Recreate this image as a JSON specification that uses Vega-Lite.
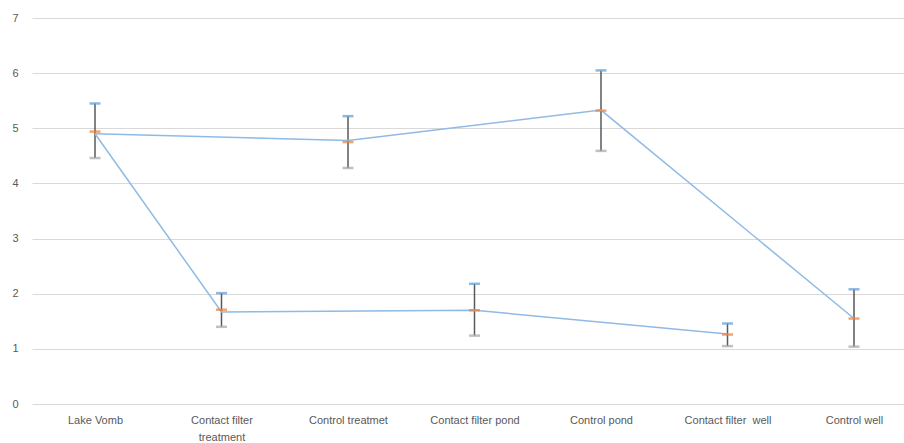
{
  "$schema": "https://vega.github.io/schema/vega-lite/v6.json",
  "autosize": "none",
  "width": 872,
  "height": 386,
  "padding": {"left": 32, "top": 18, "right": 0, "bottom": 39},
  "background": "white",
  "config": {
    "view": {"stroke": null},
    "font": "Liberation Sans",
    "axis": {"labelFont": "Liberation Sans", "labelFontSize": 11, "labelColor": "#595959", "ticks": false, "domain": false, "title": null}
  },
  "datasets": {
    "stats": [
      {"cat": "Lake Vomb", "low": 4.46, "mean": 4.94, "high": 5.45},
      {"cat": "Contact filter treatment", "low": 1.40, "mean": 1.71, "high": 2.01},
      {"cat": "Control treatmet", "low": 4.28, "mean": 4.75, "high": 5.22},
      {"cat": "Contact filter pond", "low": 1.24, "mean": 1.70, "high": 2.18},
      {"cat": "Control pond", "low": 4.59, "mean": 5.32, "high": 6.05},
      {"cat": "Contact filter  well", "low": 1.05, "mean": 1.26, "high": 1.46},
      {"cat": "Control well", "low": 1.04, "mean": 1.55, "high": 2.08}
    ],
    "lines": [
      {"cat": "Lake Vomb", "series": "Control", "value": 4.90},
      {"cat": "Control treatmet", "series": "Control", "value": 4.78},
      {"cat": "Control pond", "series": "Control", "value": 5.33},
      {"cat": "Control well", "series": "Control", "value": 1.55},
      {"cat": "Lake Vomb", "series": "Contact filter", "value": 4.90},
      {"cat": "Contact filter treatment", "series": "Contact filter", "value": 1.67},
      {"cat": "Contact filter pond", "series": "Contact filter", "value": 1.70},
      {"cat": "Contact filter  well", "series": "Contact filter", "value": 1.27}
    ]
  },
  "encoding": {
    "x": {
      "field": "cat",
      "type": "nominal",
      "sort": ["Lake Vomb", "Contact filter treatment", "Control treatmet", "Contact filter pond", "Control pond", "Contact filter  well", "Control well"],
      "scale": {"type": "point", "padding": 0.4466, "align": 0.5575},
      "axis": {"labelAngle": 0, "labelPadding": 10, "labelBaseline": "top", "grid": false, "labelLineHeight": 17,
        "labelExpr": "datum.value == 'Contact filter treatment' ? ['Contact filter', 'treatment'] : datum.value == 'Contact filter  well' ? 'Contact filter\u00a0 well' : datum.value"}
    }
  },
  "layer": [
    {
      "data": {"name": "stats"},
      "mark": {"type": "rule", "color": "#595959", "strokeWidth": 1.5},
      "encoding": {
        "y": {"field": "low", "type": "quantitative", "scale": {"domain": [0, 7], "nice": false},
          "axis": {"values": [0, 1, 2, 3, 4, 5, 6, 7], "format": "d", "grid": true, "gridColor": "#d9d9d9", "gridWidth": 1, "labelPadding": 14}},
        "y2": {"field": "high"}
      }
    },
    {
      "data": {"name": "lines"},
      "mark": {"type": "line", "color": "#8fbae5", "strokeWidth": 1.5},
      "encoding": {
        "y": {"field": "value", "type": "quantitative"},
        "detail": {"field": "series"}
      }
    },
    {
      "data": {"name": "stats"},
      "mark": {"type": "tick", "color": "#a5a5a5", "size": 11, "thickness": 2.5, "orient": "horizontal"},
      "encoding": {"y": {"field": "low", "type": "quantitative"}}
    },
    {
      "data": {"name": "stats"},
      "mark": {"type": "tick", "color": "#5b9bd5", "size": 11, "thickness": 2.5, "orient": "horizontal"},
      "encoding": {"y": {"field": "high", "type": "quantitative"}}
    },
    {
      "data": {"name": "stats"},
      "mark": {"type": "tick", "color": "#ed7d31", "size": 11, "thickness": 2.5, "orient": "horizontal"},
      "encoding": {"y": {"field": "mean", "type": "quantitative"}}
    }
  ]
}
